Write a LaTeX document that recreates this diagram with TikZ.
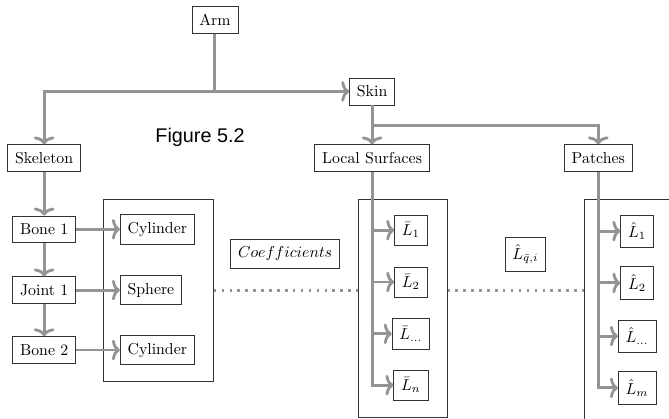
\documentclass[tikz,border=0pt]{standalone}
\usepackage{fontspec}
\newfontfamily\figfont{Liberation Sans}
\usetikzlibrary{arrows.meta, positioning}

\begin{document}
\begin{tikzpicture}[
    box/.style={draw=black!80, inner sep=4.7pt, minimum height=17pt},
    grp/.style={draw=black!80, anchor=north west},
    link/.style={draw=black!42, line width=1.8pt,
                 -{Computer Modern Rightarrow[length=5pt, width=13pt]}},
    dots/.style={draw=black!42, line width=1.6pt, dash pattern=on 1.6pt off 3.4pt},
    fig/.style={font=\figfont\fontsize{12.5}{15}\selectfont},
]
\useasboundingbox (0,0) rectangle (14.85,-9.28);
\clip (0,0) rectangle (14.85,-9.28);

\node[grp, minimum width=2.44cm, minimum height=4.04cm] (geo) at (2.29,-4.42) {};
\node[grp, minimum width=1.97cm, minimum height=4.84cm] (lsgrp) at (7.95,-4.42) {};
\node[grp, minimum width=3cm, minimum height=5.5cm] (pgrp) at (12.96,-4.42) {};

\node[box] (arm) at (4.77,-0.44) {Arm};
\node[box] (skin) at (8.26,-2.03) {Skin};
\node[box] (skel) at (0.98,-3.51) {Skeleton};
\node[box] (ls) at (8.26,-3.51) {Local Surfaces};
\node[box] (patch) at (13.28,-3.51) {Patches};
\node[fig] (title) at (4.44,-3.06) {Figure 5.2};

\node[box] (bone1) at (0.98,-5.09) {Bone 1};
\node[box] (joint1) at (0.98,-6.44) {Joint 1};
\node[box] (bone2) at (0.98,-7.77) {Bone 2};
\node[box, anchor=west] (cyl1) at (2.66,-5.09) {Cylinder};
\node[box, anchor=west] (sph) at (2.66,-6.44) {Sphere};
\node[box, anchor=west] (cyl2) at (2.66,-7.77) {Cylinder};

\node[box] (coef) at (6.33,-5.63) {$Coefficients$};
\node[box] (lhq) at (11.66,-5.64) {$\hat{L}_{\bar{q},i}$};

\node[box] (lb1) at (9.12,-5.11) {$\bar{L}_1$};
\node[box] (lb2) at (9.12,-6.26) {$\bar{L}_2$};
\node[box] (lb3) at (9.12,-7.41) {$\bar{L}_{\dots}$};
\node[box] (lb4) at (9.12,-8.55) {$\bar{L}_n$};

\node[box] (lh1) at (14.14,-5.13) {$\hat{L}_1$};
\node[box] (lh2) at (14.14,-6.28) {$\hat{L}_2$};
\node[box] (lh3) at (14.14,-7.46) {$\hat{L}_{\dots}$};
\node[box] (lh4) at (14.14,-8.61) {$\hat{L}_m$};

\coordinate (fork) at (8.26,-2.78);

\draw[link] (arm.south) |- (skin.west);
\draw[link] (arm.south |- skin.west) -| (skel.north);
\draw[link] (skin.south) -- (ls.north);
\draw[link] (fork) -| (patch.north);

\draw[link] (skel) -- (bone1);
\draw[link] (bone1) -- (joint1);
\draw[link] (joint1) -- (bone2);
\draw[link] (bone1) -- (cyl1);
\draw[link] (joint1) -- (sph);
\draw[link] (bone2) -- (cyl2);

\foreach \n in {lb1,lb2,lb3,lb4}
    \draw[link] (ls.south) |- (\n.west);
\foreach \n in {lh1,lh2,lh3,lh4}
    \draw[link] (patch.south) |- (\n.west);

\draw[dots] (geo.east) -- (geo.east -| lsgrp.west);
\draw[dots] (geo.east -| lsgrp.east) -- (geo.east -| pgrp.west);
\end{tikzpicture}
\end{document}
